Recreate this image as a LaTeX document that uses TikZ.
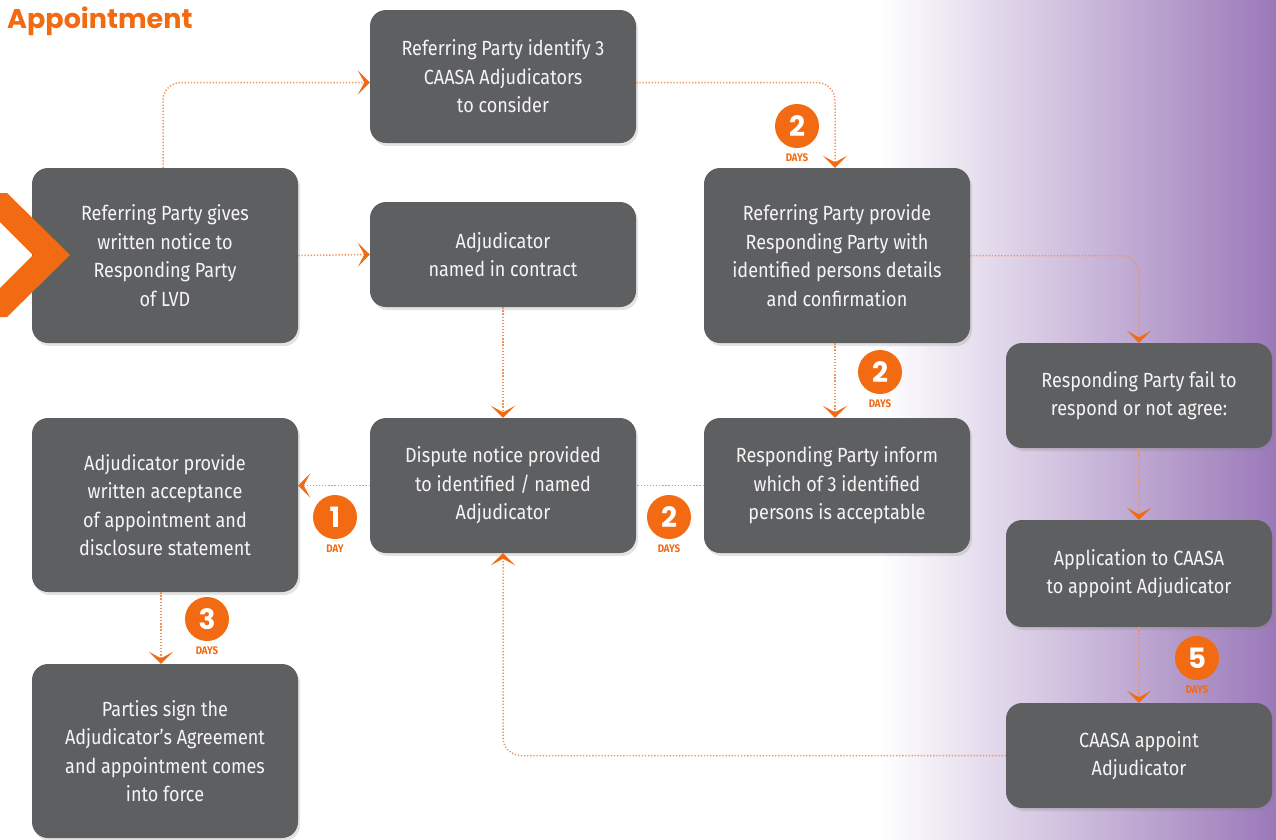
\documentclass[tikz,border=0pt]{standalone}
\usepackage{fontspec}
\setmainfont{Fira Sans}[FakeStretch=0.88]
\newfontfamily\headfont{Poppins}
\usetikzlibrary{positioning,arrows.meta,shadows}

\definecolor{boxgray}{HTML}{5E5F61}
\definecolor{caasaorange}{HTML}{F26A12}
\definecolor{dotorange}{HTML}{F29358}
\definecolor{lavender}{HTML}{9B79B9}

\tikzset{
  stepbox/.style={fill=boxgray, rounded corners=16pt, text=white!94!boxgray,
    align=center, minimum width=266pt, inner sep=0pt,
    font=\fontsize{20.5}{28.5}\selectfont,
    drop shadow={opacity=0.22, shadow xshift=2pt, shadow yshift=-3pt}},
  flow/.style={draw=dotorange, line width=1.5pt, dash pattern=on 1.3pt off 1.8pt,
    rounded corners=18pt,
    -{Stealth[length=12pt, width=24pt, inset=6.5pt, color=caasaorange]}},
  flowplain/.style={draw=dotorange, line width=1.5pt, dash pattern=on 1.3pt off 1.8pt},
  badge/.style={circle, fill=caasaorange, minimum size=44pt, inner sep=0pt,
    text=white, font=\headfont\bfseries\fontsize{28}{28}\selectfont},
  daylabel/.style={text=caasaorange, inner sep=0pt,
    font=\bfseries\fontsize{11}{11}\selectfont},
}

\begin{document}
\begin{tikzpicture}[x=1pt, y=-1pt]
\useasboundingbox (0,0) rectangle (1276,839);
% purple fade on the right hand side
\shade[left color=white, right color=lavender] (880,0) rectangle (1276,839);

\node[anchor=west, text=caasaorange, inner sep=0pt,
  font=\headfont\bfseries\fontsize{27}{27}\selectfont] (title) at (7,21) {Appointment};

% steps
\node[stepbox, minimum height=175pt] (b1) at (165,255.5)
  {Referring Party gives\\written notice to\\Responding Party\\of LVD};
\node[stepbox, minimum height=133pt] (b2) at (503,76.5)
  {Referring Party identify 3\\CAASA Adjudicators\\to consider};
\node[stepbox, minimum height=105pt] (b3) at (503,254.5)
  {Adjudicator\\named in contract};
\node[stepbox, minimum height=175pt] (b4) at (837,255.5)
  {Referring Party provide\\Responding Party with\\identified persons details\\and confirmation};
\node[stepbox, minimum height=105pt] (b5) at (1139,395.5)
  {Responding Party fail to\\respond or not agree:};
\node[stepbox, minimum height=135pt] (b6) at (503,485.5)
  {Dispute notice provided\\to identified / named\\Adjudicator};
\node[stepbox, minimum height=135pt] (b7) at (837,485.5)
  {Responding Party inform\\which of 3 identified\\persons is acceptable};
\node[stepbox, minimum height=174pt] (b8) at (165,505)
  {Adjudicator provide\\written acceptance\\of appointment and\\disclosure statement};
\node[stepbox, minimum height=107pt] (b9) at (1139,573.5)
  {Application to CAASA\\to appoint Adjudicator};
\node[stepbox, minimum height=105pt] (b10) at (1139,755.5)
  {CAASA appoint\\Adjudicator};
\node[stepbox, minimum height=174pt] (b11) at (165,751)
  {Parties sign the\\Adjudicator’s Agreement\\and appointment comes\\into force};

% lead-in chevron, over the first step
\fill[caasaorange] (0,193) -- (7,193) -- (70,255) -- (7,317) -- (0,317)
  -- (0,288) -- (33,255) -- (0,222) -- cycle;

% connectors
\draw[flow] ([xshift=-2pt]b1.north) |- ([yshift=-6pt]b2.west);
\draw[flow] (b1.east) -- (b3.west);
\draw[flow] ([yshift=-6pt]b2.east) -| ([xshift=-2pt]b4.north);
\draw[flow] (b3.south) -- (b6.north);
\draw[flow] ([xshift=-2pt]b4.south) -- ([xshift=-2pt]b7.north);
\draw[flow] (b4.east) -| (b5.north);
\draw[flowplain] (b7.west) -- (b6.east);
\draw[flow] (b6.west) -- (b6.west -| b8.east);
\draw[flow] ([xshift=-4pt]b8.south) -- ([xshift=-4pt]b11.north);
\draw[flow] (b5.south) -- (b9.north);
\draw[flow] (b9.south) -- (b10.north);
\draw[flow] (b10.west) -| (b6.south);

% day counts
\node[badge] (d1) at (797,126) {2};
\node[daylabel, below=5pt of d1] (l1) {DAYS};
\node[badge] (d2) at (880,372) {2};
\node[daylabel, below=5pt of d2] (l2) {DAYS};
\node[badge] (d3) at (669,517) {2};
\node[daylabel, below=5pt of d3] (l3) {DAYS};
\node[badge] (d4) at (335,517) {1};
\node[daylabel, below=5pt of d4] (l4) {DAY};
\node[badge] (d5) at (207,619) {3};
\node[daylabel, below=5pt of d5] (l5) {DAYS};
\node[badge] (d6) at (1197,658) {5};
\node[daylabel, below=5pt of d6] (l6) {DAYS};
\end{tikzpicture}
\end{document}
